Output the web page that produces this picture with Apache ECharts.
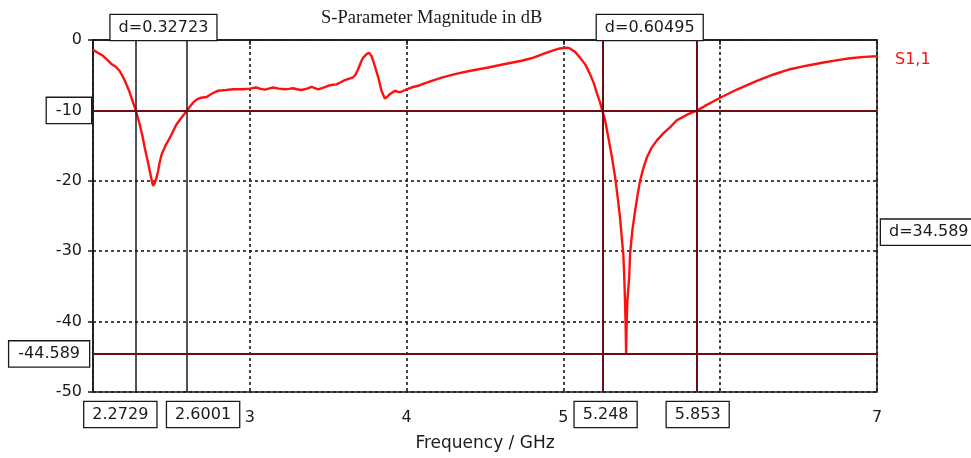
<!DOCTYPE html>
<html>
<head>
<meta charset="utf-8">
<script src="https://cdn.jsdelivr.net/npm/echarts@6/dist/echarts.min.js"></script>
<style>
html,body{margin:0;padding:0;background:#fff;}
#chart{width:971px;height:458px;}
</style>
</head>
<body>
<div id="chart"></div>
<script>
// ---- data ----
var freqGHz = [2.000,2.030,2.064,2.090,2.117,2.145,2.170,2.195,2.213,2.230,2.245,2.2729,2.298,2.315,2.330,2.347,2.362,2.375,2.383,2.392,2.405,2.415,2.425,2.437,2.462,2.490,2.510,2.532,2.565,2.6001,2.620,2.638,2.665,2.690,2.724,2.760,2.798,2.850,2.894,2.930,2.957,3.000,3.040,3.070,3.096,3.120,3.149,3.185,3.223,3.250,3.276,3.300,3.330,3.365,3.394,3.436,3.470,3.500,3.530,3.553,3.580,3.606,3.640,3.659,3.675,3.691,3.708,3.723,3.745,3.760,3.775,3.787,3.800,3.819,3.840,3.861,3.875,3.893,3.925,3.950,3.968,4.000,4.030,4.074,4.110,4.160,4.230,4.308,4.400,4.521,4.620,4.734,4.810,4.880,4.940,4.978,5.020,5.042,5.075,5.106,5.140,5.170,5.195,5.213,5.230,5.248,5.265,5.287,5.310,5.330,5.347,5.361,5.372,5.382,5.388,5.393,5.397,5.400,5.403,5.408,5.414,5.420,5.425,5.440,5.457,5.473,5.489,5.510,5.532,5.560,5.595,5.640,5.680,5.723,5.790,5.853,5.900,6.000,6.110,6.234,6.340,6.446,6.550,6.659,6.750,6.829,6.920,7.000];
var s11dB = [-1.4,-1.8,-2.25,-2.8,-3.4,-3.8,-4.4,-5.4,-6.3,-7.2,-8.2,-10.0,-12.0,-13.6,-15.3,-17.0,-18.6,-20.0,-20.7,-20.4,-19.6,-18.6,-17.4,-16.3,-15.0,-13.9,-13.0,-12.0,-11.0,-10.0,-9.4,-8.9,-8.4,-8.2,-8.1,-7.6,-7.2,-7.1,-7.0,-7.0,-7.0,-6.9,-6.75,-6.95,-7.05,-6.9,-6.75,-6.9,-7.0,-6.95,-6.85,-7.0,-7.1,-6.9,-6.65,-7.0,-6.75,-6.5,-6.35,-6.3,-6.0,-5.7,-5.45,-5.3,-4.9,-4.15,-3.2,-2.5,-2.0,-1.8,-2.2,-2.95,-3.9,-5.3,-7.2,-8.3,-8.1,-7.7,-7.2,-7.4,-7.35,-7.0,-6.75,-6.5,-6.2,-5.8,-5.3,-4.85,-4.4,-3.9,-3.45,-2.95,-2.5,-1.9,-1.45,-1.2,-1.1,-1.2,-1.7,-2.5,-3.5,-4.85,-6.2,-7.5,-8.6,-10.0,-11.3,-13.9,-16.7,-19.5,-22.5,-25.2,-28.0,-30.4,-33.5,-37.1,-40.5,-44.589,-40.5,-37.1,-37.1,-33.5,-30.4,-27.0,-24.3,-22.0,-20.0,-18.2,-16.7,-15.4,-14.3,-13.2,-12.4,-11.4,-10.6,-10.0,-9.4,-8.2,-7.0,-5.8,-4.9,-4.15,-3.65,-3.2,-2.85,-2.6,-2.4,-2.3];
var seriesName = 'S1,1';
var xMarkers1 = [2.2729, 2.6001];
var xMarkers1Labels = ['2.2729', '2.6001'];
var xMarkers2 = [5.248, 5.853];
var xMarkers2Labels = ['5.248', '5.853'];
var yMarkers = [-10, -44.589];
var yMarkersLabels = ['-10', '-44.589'];
var deltaLabels = ['d=0.32723', 'd=0.60495', 'd=34.589'];
var xTicks = {min: 2, max: 7, interval: 1};
var yTicks = {min: -50, max: 0, interval: 10};

var chart = echarts.init(document.getElementById('chart'));
var FONT = 'DejaVu Sans';
var MAROON = '#6e0b14';
var INK = '#1a1a1a';
var boxLabel = {
  color: INK, fontFamily: FONT, fontSize: 16,
  backgroundColor: '#fff', borderColor: INK, borderWidth: 1.3,
  padding: [5, 8, 4, 8]
};
function pairs(xs, ys) { return xs.map(function (x, i) { return [x, ys[i]]; }); }

var markLineData = [];
xMarkers1.forEach(function (v, i) {
  markLineData.push({xAxis: v, name: xMarkers1Labels[i],
    lineStyle: {color: INK, width: 1.5, type: 'solid'},
    label: Object.assign({}, boxLabel, {show: true, position: 'start', distance: 10, formatter: '{b}', offset: [i === 0 ? -15 : 16, 0]})});
});
xMarkers2.forEach(function (v, i) {
  markLineData.push({xAxis: v, name: xMarkers2Labels[i],
    lineStyle: {color: MAROON, width: 2, type: 'solid'},
    label: Object.assign({}, boxLabel, {show: true, position: 'start', distance: 10, formatter: '{b}', offset: [i === 0 ? 3 : 1, 0]})});
});
yMarkers.forEach(function (v, i) {
  markLineData.push({yAxis: v, name: yMarkersLabels[i],
    lineStyle: {color: MAROON, width: 2, type: 'solid'},
    label: Object.assign({}, boxLabel, {show: true, position: 'start', distance: i === 0 ? 2 : 4, formatter: '{b}', padding: [5, 9, 4, 9]})});
});

var option = {
  animation: false,
  backgroundColor: '#fff',
  title: {
    text: 'S-Parameter Magnitude in dB',
    left: 316, top: 4,
    textStyle: {fontFamily: 'Liberation Serif', fontSize: 18.5, fontWeight: 'normal', color: INK}
  },
  grid: {left: 93, right: 94, top: 40, bottom: 66, show: true, borderColor: INK, borderWidth: 1.5, backgroundColor: 'transparent'},
  xAxis: {
    type: 'value', min: xTicks.min, max: xTicks.max, interval: xTicks.interval,
    name: 'Frequency / GHz', nameLocation: 'middle', nameGap: 43,
    nameTextStyle: {fontFamily: FONT, fontSize: 17, color: INK},
    axisLine: {lineStyle: {color: INK, width: 1.5}},
    axisTick: {show: true, length: 5, lineStyle: {color: INK, width: 1.5}},
    axisLabel: {fontFamily: FONT, fontSize: 16, color: INK, margin: 18,
      formatter: function (v) { return (v === 2 || v === 6) ? '' : String(v); }},
    splitLine: {show: true, lineStyle: {color: INK, width: 1.6, type: [3, 3]}}
  },
  yAxis: {
    type: 'value', min: yTicks.min, max: yTicks.max, interval: yTicks.interval,
    axisLine: {show: true, lineStyle: {color: INK, width: 1.5}},
    axisTick: {show: true, length: 5, lineStyle: {color: INK, width: 1.5}},
    axisLabel: {fontFamily: FONT, fontSize: 16, color: INK, margin: 11,
      formatter: function (v) { return v === -10 ? '' : String(v); }},
    splitLine: {show: true, lineStyle: {color: INK, width: 1.6, type: [3, 3]}}
  },
  series: [{
    name: seriesName,
    type: 'line',
    data: pairs(freqGHz, s11dB),
    showSymbol: false,
    smooth: false,
    lineStyle: {color: '#ff1010', width: 2.4},
    itemStyle: {color: '#ff1010'},
    endLabel: {show: true, formatter: seriesName, color: '#ff1010', fontFamily: FONT, fontSize: 16, distance: 18, offset: [0, 4]},
    markLine: {
      silent: true, symbol: 'none', animation: false,
      data: markLineData
    },
    markArea: {
      silent: true,
      itemStyle: {color: 'rgba(0,0,0,0)'},
      data: [
        [{xAxis: xMarkers1[0], name: deltaLabels[0], label: Object.assign({}, boxLabel, {show: true, position: 'top', distance: 0, offset: [2, 0]})}, {xAxis: xMarkers1[1]}],
        [{xAxis: xMarkers2[0], name: deltaLabels[1], label: Object.assign({}, boxLabel, {show: true, position: 'top', distance: 0})}, {xAxis: xMarkers2[1]}],
        [{yAxis: yMarkers[0], name: deltaLabels[2], label: Object.assign({}, boxLabel, {show: true, position: 'right', distance: 4})}, {yAxis: yMarkers[1]}]
      ]
    }
  }]
};
chart.setOption(option);
</script>
</body>
</html>
